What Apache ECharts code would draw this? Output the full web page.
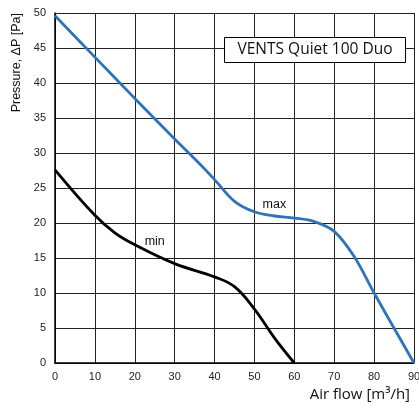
<!DOCTYPE html>
<html><head><meta charset="utf-8">
<script src="https://cdn.jsdelivr.net/npm/echarts@6/dist/echarts.min.js"></script>
<style>html,body{margin:0;padding:0;background:#fff}#c{width:419px;height:414px}</style>
</head><body><div id="c"></div>
<script>
const xTicks = [0,10,20,30,40,50,60,70,80,90];
const yTicks = [0,5,10,15,20,25,30,35,40,45,50];
const maxFlow = [0, 10, 20, 30, 36, 40, 45, 50, 55, 60, 65, 70, 75, 80, 90];
const maxPres = [49.6, 43.7, 37.8, 32.0, 28.6, 26.2, 23.1, 21.6, 21.0, 20.7, 20.2, 18.8, 15.2, 10.0, 0];
const minFlow = [0, 10, 15, 20, 30, 40, 45, 50, 55, 60];
const minPres = [27.6, 21.1, 18.6, 16.9, 14.2, 12.3, 10.9, 7.7, 3.6, 0];
const labels = [{name:'max', x:55, y:22.6}, {name:'min', x:25, y:17.4}];
const titleText = 'VENTS Quiet 100 Duo';
const yName = 'Pressure, ΔP [Pa]';
const xName = 'Air flow [m³/h]';

const chart = echarts.init(document.getElementById('c'), null, {renderer:'canvas'});
const zip = (a,b)=>a.map((v,i)=>[v,b[i]]);
chart.setOption({
  animation:false,
  grid:{left:55, right:5, top:13, bottom:51, containLabel:false, outerBoundsMode:'none'},
  xAxis:{type:'value', min:0, max:90, interval:10,
    axisLine:{show:true, lineStyle:{color:'#000', width:1.5}},
    axisTick:{show:false},
    axisLabel:{color:'#222', fontFamily:'Arial, Liberation Sans', fontSize:11, margin:8},
    splitLine:{show:true, lineStyle:{color:'#222', width:1}}
  },
  yAxis:{type:'value', min:0, max:50, interval:5,
    axisLine:{show:true, lineStyle:{color:'#000', width:1.5}},
    axisTick:{show:false},
    axisLabel:{color:'#222', fontFamily:'Arial, Liberation Sans', fontSize:11, margin:9},
    splitLine:{show:true, lineStyle:{color:'#222', width:1}}
  },
  graphic:[
    {type:'group', left:224, top:37, z:100, children:[
      {type:'rect', z:100, shape:{x:0,y:0,width:181,height:25}, style:{fill:'#fff', stroke:'#000', lineWidth:1}},
      {type:'text', z:101, x:90.5, y:12.5, style:{text:titleText, fontFamily:'Open Sans', fontSize:15.5, fill:'#111', align:'center', verticalAlign:'middle'}}
    ]},
    {type:'text', x:17, y:13, rotation:Math.PI/2, style:{text:yName, fontFamily:'Arial, Liberation Sans', fontSize:12.5, fill:'#111', align:'right', verticalAlign:'middle'}},
    {type:'text', right:9, top:387, style:{text:xName, fontFamily:'Open Sans', fontSize:15, fill:'#111'}}
  ],
  series:[
    {type:'line', data:zip(maxFlow,maxPres), smooth:0.35, showSymbol:false, symbol:'none',
      lineStyle:{color:'#2f73b8', width:2.8}, z:3,
      markPoint:{symbol:'circle', symbolSize:0, silent:true,
        data:[{coord:[labels[0].x,labels[0].y], label:{show:true, formatter:labels[0].name, color:'#111', fontFamily:'Arial, Liberation Sans', fontSize:12.5}}]}},
    {type:'line', data:zip(minFlow,minPres), smooth:0.4, showSymbol:false, symbol:'none',
      lineStyle:{color:'#000', width:2.8}, z:3,
      markPoint:{symbol:'circle', symbolSize:0, silent:true,
        data:[{coord:[labels[1].x,labels[1].y], label:{show:true, formatter:labels[1].name, color:'#111', fontFamily:'Arial, Liberation Sans', fontSize:12.5}}]}}
  ]
});
</script></body></html>
